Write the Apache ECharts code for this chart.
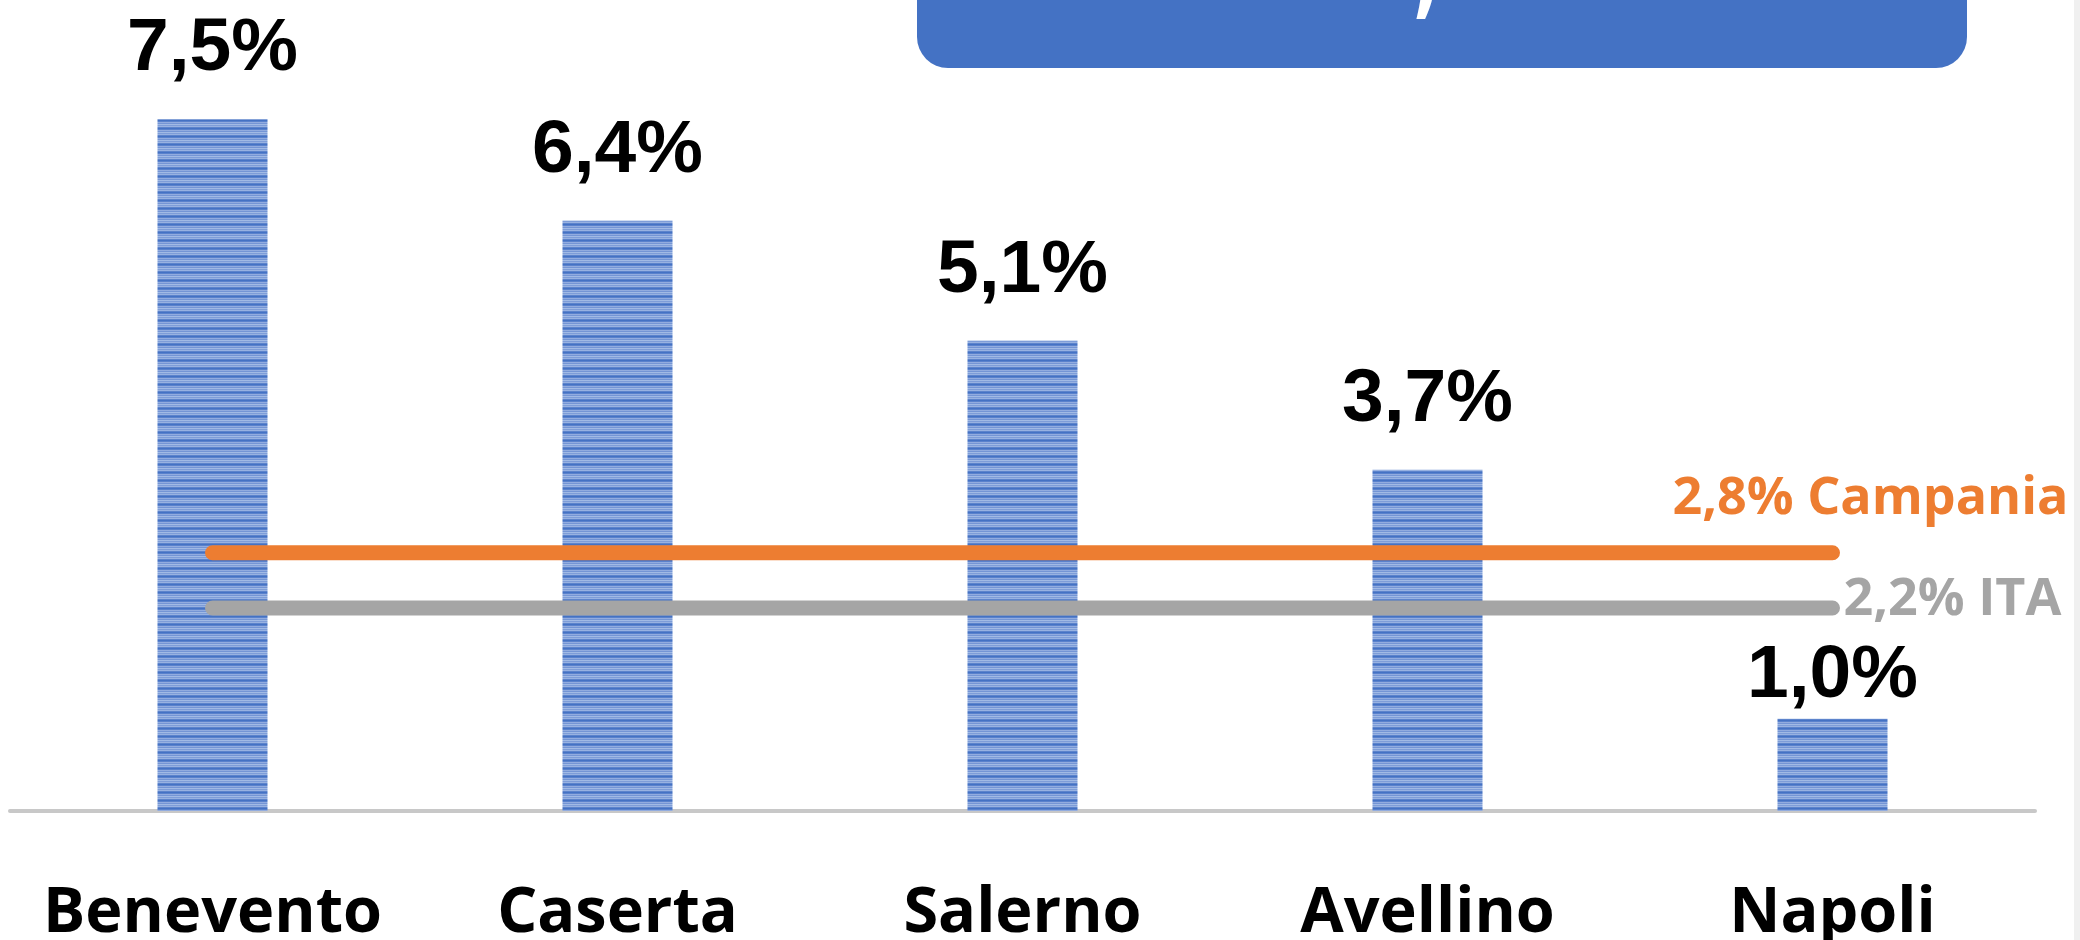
<!DOCTYPE html>
<html>
<head>
<meta charset="utf-8">
<script src="https://cdn.jsdelivr.net/npm/echarts@6/dist/echarts.min.js"></script>
<style>
html,body{margin:0;padding:0;background:#fff;}
#chart{width:2080px;height:940px;}
</style>
</head>
<body>
<div id="chart"></div>
<script>
// ---- data ----
const categories = ['Benevento', 'Caserta', 'Salerno', 'Avellino', 'Napoli'];
const provinceValues = [7.5, 6.4, 5.1, 3.7, 1.0];
const campaniaValue = 2.8;
const italyValue = 2.2;
const campaniaLabel = '2,8% Campania';
const italyLabel = '2,2% ITA';

const campaniaLine = categories.map(() => campaniaValue);
const italyLine = categories.map(() => italyValue);

function fmtPct(v) { return v.toFixed(1).replace('.', ',') + '%'; }

function stripePattern() {
  const c = document.createElement('canvas');
  c.width = 4; c.height = 8;
  const ctx = c.getContext('2d');
  const rows = ['#4472C4', '#5A82CC', '#92ACDF', '#7495D5', '#A1BAE5', '#7E9DD8', '#98B2E1', '#5D84CC'];
  rows.forEach((col, i) => { ctx.fillStyle = col; ctx.fillRect(0, i, 4, 1); });
  return c;
}

const barData = provinceValues.map((v, i) =>
  i === provinceValues.length - 1 ? { value: v, label: { distance: 5 } } : v
);

const chart = echarts.init(document.getElementById('chart'), null, { renderer: 'canvas' });

const labelFont = 'Open Sans';

chart.setOption({
  backgroundColor: '#ffffff',
  animation: false,
  grid: { left: 10, right: 45, top: 73, bottom: 129, containLabel: false, outerBoundsMode: 'none' },
  xAxis: {
    type: 'category',
    data: categories,
    boundaryGap: true,
    axisLine: { show: true, lineStyle: { color: '#C8C8C8', width: 4 } },
    axisTick: { show: false },
    axisLabel: {
      color: '#000000', fontFamily: labelFont, fontWeight: 'bold', fontSize: 63,
      margin: 72, interval: 0
    }
  },
  yAxis: {
    type: 'value', min: 0, max: 8,
    show: false,
    splitLine: { show: false }
  },
  graphic: [
    { type: 'rect', shape: { x: 917, y: -40, width: 1050, height: 108, r: 31 }, style: { fill: '#4472C4' }, z: 10 },
    { type: 'text', x: 1414, y: -14, style: { text: ',', fill: '#ffffff', font: 'bold 80px "Open Sans"', verticalAlign: 'middle' }, z: 11 },
    { type: 'rect', shape: { x: 2074, y: 0, width: 6, height: 940 }, style: { fill: '#F0F0F0' }, z: 10 }
  ],
  series: [
    {
      type: 'bar',
      data: barData,
      barWidth: 110,
      itemStyle: { color: { image: stripePattern(), repeat: 'repeat' } },
      label: {
        show: true, position: 'top', distance: 32,
        formatter: p => fmtPct(p.value),
        color: '#000000', fontFamily: 'Liberation Sans', fontWeight: 'bold', fontSize: 75
      },
      z: 2
    },
    {
      type: 'line',
      data: campaniaLine,
      symbol: 'none',
      lineStyle: { color: '#ED7D31', width: 15, cap: 'round' },
      endLabel: {
        show: true, formatter: campaniaLabel, distance: 11, offset: [-171, -54],
        color: '#ED7D31', fontFamily: labelFont, fontWeight: 'bold', fontSize: 52, align: 'left'
      },
      z: 3
    },
    {
      type: 'line',
      data: italyLine,
      symbol: 'none',
      lineStyle: { color: '#A5A5A5', width: 15, cap: 'round' },
      endLabel: {
        show: true, formatter: italyLabel, distance: 11, offset: [0, -8],
        color: '#A5A5A5', fontFamily: labelFont, fontWeight: 'bold', fontSize: 52, align: 'left'
      },
      z: 3
    }
  ]
});
</script>
</body>
</html>
